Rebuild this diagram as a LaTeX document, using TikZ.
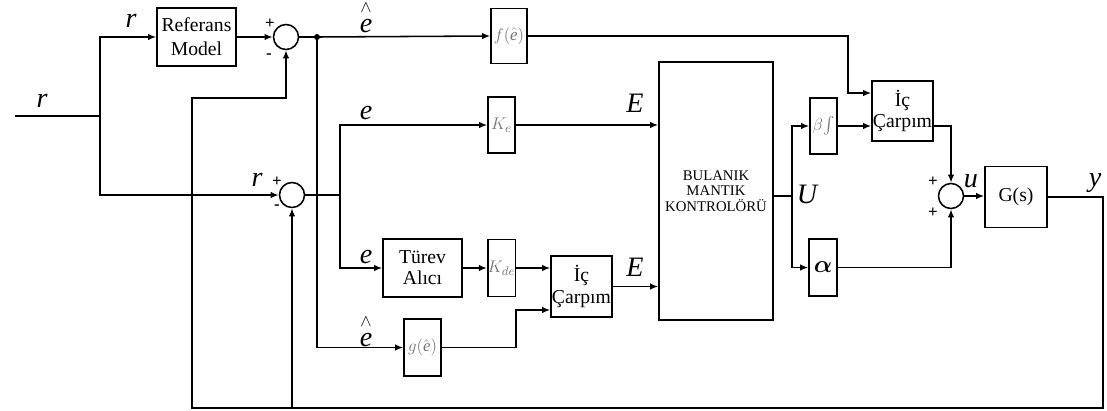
\documentclass[tikz,border=0pt]{standalone}
\usepackage{amsmath}
\usepackage{fontspec}
\setmainfont{Liberation Serif}
\usetikzlibrary{arrows.meta}

\begin{document}
\begin{tikzpicture}[
  x=0.025cm, y=-0.025cm, line width=1.1pt,
  >={Latex[length=2mm,width=1.6mm]},
  blk/.style 2 args={draw, minimum width=#1*0.025cm, minimum height=#2*0.025cm,
    inner sep=0pt, align=center, font=\fontsize{14}{15}\selectfont},
  sumc/.style={draw, circle, minimum size=0.625cm, inner sep=0pt},
  lbl/.style={inner sep=0pt, font=\fontsize{20}{20}\selectfont\itshape},
  hatlbl/.style={inner sep=0pt, align=center, font=\fontsize{20}{20}\selectfont\itshape},
  sgn/.style={inner sep=0pt, font=\fontsize{12}{12}\selectfont\bfseries},
  gain/.style={font=\fontsize{13}{13}\selectfont\itshape, text=black!55}
]
\useasboundingbox (0,0) rectangle (1107,410);

% blocks
\node[blk={79}{58}, font=\fontsize{14}{17}\selectfont] (ref) at (196.5,37) {Referans\\Model};
\node[sumc] (sum1) at (286,37) {};
\node[blk={36}{55}, gain, font=\fontsize{12}{12}\selectfont] (fbox) at (509,36) {$f(\hat{\textit{e}})$};
\node[blk={27}{56}, gain] (ke) at (501.5,125) {$K_e$};
\node[blk={114}{258}, font=\fontsize{10.5}{11}\selectfont] (bmk) at (716,191) {BULANIK\\MANTIK\\KONTROLÖRÜ};
\node[blk={27}{56}, gain] (beta) at (823.5,126) {$\beta\!\int$};
\node[blk={61}{60}] (ic1) at (902.5,111) {İç\\Çarpım};
\node[sumc] (sum2) at (951,196) {};
\node[blk={62}{61}] (gs) at (1016,197) {G(s)};
\node[blk={28}{57}, font=\fontsize{17}{17}\selectfont] (alpha) at (823,267.5) {$\boldsymbol{\alpha}$};
\node[sumc] (sum3) at (292,195) {};
\node[blk={79}{58}] (turev) at (422.5,268) {Türev\\Alıcı};
\node[blk={27}{57}, gain] (kde) at (501.5,268) {$K_{de}$};
\node[blk={61}{61}] (ic2) at (581.5,286.5) {İç\\Çarpım};
\node[blk={37}{57}, gain, font=\fontsize{12}{12}\selectfont] (gbox) at (422.5,347.5) {$g(\hat{\textit{e}})$};

% points
\coordinate (in) at (15,116);
\coordinate (sp) at (100,116);
\coordinate (dot) at (317,37);
\coordinate (ep) at (340,195);
\coordinate (up) at (792,196);
\coordinate (fc) at (848,93);
\coordinate (gc) at (516,310);
\coordinate (ff) at (192,98);
\coordinate (bl) at (192,408);
\coordinate (br) at (1103,408);

% connectors
\draw (in) -- (sp);
\draw[->] (sp) |- (ref.west);
\draw[->] (sp) |- (sum3.west);
\draw[->] (ref.east) -- (sum1.west);
\draw (sum1.east) -- (dot);
\draw[->] (dot) -- (fbox.west);
\draw[->] (dot) |- (gbox.west);
\fill (dot) circle (3);
\draw[->] (fbox.east) -| (fc) -- (fc -| ic1.west);
\draw (sum3.east) -- (ep);
\draw[->] (ep) |- (ke.west);
\draw[->] (ep) |- (turev.west);
\draw[->] (ke.east) -- (ke.east -| bmk.west);
\draw[->] (turev.east) -- (kde.west);
\draw[->] (kde.east) -- (kde.east -| ic2.west);
\draw[->] (gbox.east) -| (gc) -- (gc -| ic2.west);
\draw[->] (ic2.east) -- (ic2.east -| bmk.west);
\draw (bmk.east |- up) -- (up);
\draw[->] (up) |- (beta.west);
\draw[->] (up) |- (alpha.west);
\draw[->] (beta.east) -- (beta.east -| ic1.west);
\draw[->] (ic1.east |- beta.east) -| (sum2.north);
\draw[->] (alpha.east) -| (sum2.south);
\draw[->] (sum2.east) -- (gs.west |- sum2.east);
\draw[->, line width=1.5pt] (gs.east) -| (br) -- (bl) -- (ff) -| (sum1.south);
\draw[->, line width=1.5pt] (sum3 |- bl) -- (sum3.south);

% labels
\node[lbl] (lr0) at (42,101) {r};
\node[lbl] (lr1) at (131,21) {r};
\node[hatlbl] (le0) at (366,18) {{\fontsize{13}{13}\selectfont$\wedge$}\\[-6pt]e};
\node[sgn] (p1) at (270,24) {+};
\node[sgn] (m1) at (269,56) {-};
\node[lbl] (lr2) at (257,180) {r};
\node[sgn] (p3) at (277,182) {+};
\node[sgn] (m3) at (277,207) {-};
\node[lbl] (le1) at (366,113) {e};
\node[lbl] (le2) at (366,257) {e};
\node[hatlbl] (le3) at (366,332) {{\fontsize{13}{13}\selectfont$\wedge$}\\[-6pt]e};
\node[lbl] (lE1) at (635,103) {E};
\node[lbl] (lE2) at (635,267) {E};
\node[lbl] (lU) at (807,194) {U};
\node[sgn] (p2a) at (933,182) {+};
\node[sgn] (p2b) at (933,213) {+};
\node[lbl] (lu) at (971,181) {u};
\node[lbl] (ly) at (1095,183) {y};
\end{tikzpicture}
\end{document}
